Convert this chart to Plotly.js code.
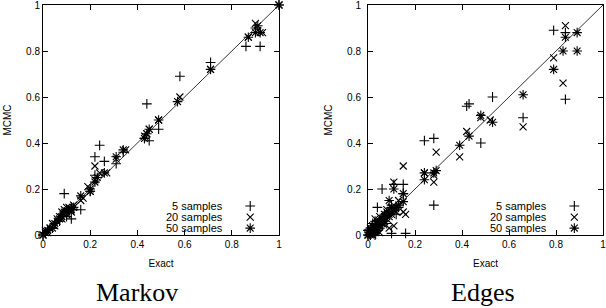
<!DOCTYPE html>
<html>
<head>
<meta charset="utf-8">
<script src="https://cdn.plot.ly/plotly-3.0.1.min.js"></script>
<style>html,body{margin:0;padding:0;background:#fff;}#chart{width:606px;height:308px;}</style>
</head>
<body>
<div id="chart"></div>
<script>
// ---------- data ----------
const seriesNames = ["5 samples", "20 samples", "50 samples"];
const panelTitles = ["Markov", "Edges"];
const tickVals = [0, 0.2, 0.4, 0.6, 0.8, 1];
const diagX = [0, 1];
const diagY = [0, 1];

// Markov panel
const markovX5  = [0.00,0.01,0.02,0.04,0.05,0.07,0.08,0.09,0.09,0.10,0.10,0.11,0.12,0.12,0.13,0.16,0.20,0.22,0.22,0.24,0.26,0.31,0.34,0.43,0.45,0.44,0.49,0.58,0.71,0.86,0.92,0.90,1.00];
const markovY5  = [0.00,0.01,0.02,0.03,0.05,0.06,0.09,0.18,0.10,0.11,0.08,0.10,0.07,0.12,0.11,0.11,0.19,0.34,0.26,0.39,0.32,0.31,0.36,0.42,0.41,0.57,0.46,0.69,0.75,0.82,0.82,0.90,1.00];
const markovX20 = [0.00,0.01,0.02,0.03,0.04,0.05,0.06,0.07,0.08,0.08,0.09,0.10,0.10,0.11,0.12,0.13,0.17,0.16,0.19,0.20,0.22,0.22,0.24,0.27,0.31,0.35,0.43,0.45,0.44,0.49,0.58,0.71,0.87,0.90,0.91,0.93,1.00];
const markovY20 = [0.00,0.02,0.01,0.03,0.05,0.04,0.07,0.08,0.10,0.07,0.11,0.09,0.12,0.12,0.10,0.13,0.16,0.15,0.21,0.19,0.30,0.24,0.27,0.27,0.33,0.37,0.43,0.46,0.44,0.50,0.60,0.72,0.86,0.92,0.89,0.88,1.00];
const markovX50 = [0.00,0.01,0.02,0.03,0.04,0.05,0.06,0.07,0.08,0.09,0.10,0.11,0.12,0.13,0.16,0.20,0.20,0.22,0.23,0.26,0.31,0.34,0.43,0.44,0.45,0.49,0.57,0.71,0.87,0.90,0.91,0.92,1.00];
const markovY50 = [0.00,0.01,0.02,0.03,0.03,0.05,0.06,0.07,0.08,0.10,0.10,0.11,0.11,0.12,0.17,0.20,0.19,0.23,0.25,0.27,0.34,0.37,0.42,0.44,0.46,0.50,0.58,0.72,0.86,0.88,0.91,0.88,1.00];

// Edges panel
const edgesX5  = [0.00,0.00,0.01,0.01,0.01,0.02,0.02,0.02,0.03,0.03,0.03,0.04,0.04,0.04,0.05,0.05,0.06,0.06,0.06,0.07,0.08,0.08,0.09,0.10,0.10,0.11,0.12,0.13,0.15,0.15,0.16,0.24,0.28,0.28,0.42,0.43,0.48,0.53,0.66,0.79,0.84,0.84];
const edgesY5  = [0.00,0.02,0.03,0.00,0.01,0.05,0.01,0.03,0.00,0.06,0.02,0.12,0.02,0.04,0.065,0.03,0.20,0.04,0.07,0.09,0.05,0.08,0.10,0.007,0.13,0.22,0.09,0.12,0.22,0.18,0.007,0.41,0.42,0.13,0.56,0.57,0.40,0.60,0.51,0.89,0.88,0.59];
const edgesX20 = [0.00,0.00,0.01,0.01,0.01,0.02,0.02,0.02,0.03,0.03,0.04,0.04,0.05,0.05,0.06,0.06,0.07,0.07,0.08,0.08,0.09,0.09,0.10,0.10,0.11,0.11,0.12,0.13,0.15,0.15,0.16,0.24,0.28,0.28,0.29,0.39,0.42,0.48,0.52,0.66,0.79,0.83,0.84];
const edgesY20 = [0.00,0.01,0.02,0.005,0.03,0.04,0.00,0.02,0.02,0.07,0.03,0.05,0.08,0.01,0.05,0.06,0.09,0.06,0.11,0.07,0.03,0.08,0.12,0.09,0.04,0.23,0.10,0.15,0.30,0.10,0.09,0.27,0.23,0.26,0.36,0.34,0.45,0.51,0.50,0.47,0.77,0.66,0.91];
const edgesX50 = [0.00,0.005,0.01,0.01,0.015,0.02,0.02,0.025,0.03,0.03,0.035,0.04,0.04,0.045,0.05,0.05,0.06,0.06,0.07,0.07,0.08,0.08,0.09,0.09,0.10,0.10,0.11,0.11,0.12,0.13,0.15,0.15,0.24,0.24,0.29,0.28,0.39,0.43,0.48,0.53,0.66,0.79,0.83,0.84,0.89,0.89];
const edgesY50 = [0.00,0.01,0.00,0.02,0.01,0.02,0.04,0.03,0.01,0.04,0.02,0.05,0.03,0.04,0.06,0.04,0.07,0.05,0.06,0.08,0.10,0.08,0.09,0.15,0.10,0.12,0.20,0.11,0.12,0.13,0.18,0.145,0.27,0.24,0.28,0.27,0.39,0.43,0.52,0.49,0.61,0.72,0.80,0.86,0.88,0.80];

// ---------- styling ----------
const symbols = ["cross-thin-open", "x-thin-open", "asterisk-open"];
const sizes = [7, 7, 8];
const legendRowsY = [0.126, 0.078, 0.030];
const legendTextX = 0.772;
const legendKeyX = 0.878;
const sansFont = "Liberation Sans, Arial, sans-serif";
const serifFont = "Liberation Serif, Times New Roman, serif";

const panels = [
  {xs: [markovX5, markovX20, markovX50], ys: [markovY5, markovY20, markovY50], xa: "x", ya: "y"},
  {xs: [edgesX5, edgesX20, edgesX50], ys: [edgesY5, edgesY20, edgesY50], xa: "x2", ya: "y2"}
];

const traces = [];
const annotations = [];
panels.forEach((p, pi) => {
  traces.push({x: diagX, y: diagY, xaxis: p.xa, yaxis: p.ya, mode: "lines",
    line: {color: "#000", width: 0.8}, showlegend: false, hoverinfo: "skip"});
  for (let s = 0; s < 3; s++) {
    traces.push({x: p.xs[s], y: p.ys[s], xaxis: p.xa, yaxis: p.ya, mode: "markers",
      name: seriesNames[s], cliponaxis: false, showlegend: false,
      marker: {symbol: symbols[s], size: sizes[s], color: "#000", line: {color: "#000", width: 1.1}}});
    // legend key
    traces.push({x: [legendKeyX], y: [legendRowsY[s]], xaxis: p.xa, yaxis: p.ya, mode: "markers",
      cliponaxis: false, showlegend: false, hoverinfo: "skip",
      marker: {symbol: symbols[s], size: sizes[s], color: "#000", line: {color: "#000", width: 1.1}}});
    annotations.push({xref: p.xa, yref: p.ya, x: legendTextX, y: legendRowsY[s], text: seriesNames[s],
      showarrow: false, xanchor: "right", yanchor: "middle", font: {family: sansFont, size: 11, color: "#000"}});
  }
});

const domains = [[43/606, 279/606], [368/606, 603/606]];
const titleCentersX = [137/606, 483/606];
titleCentersX.forEach((cx, i) => {
  annotations.push({xref: "paper", yref: "paper", x: cx, y: -0.252, text: panelTitles[i],
    showarrow: false, xanchor: "center", yanchor: "middle", font: {family: serifFont, size: 26, color: "#000"}});
});

function axis(dom, anchor, titleText, isX, extra) {
  return Object.assign({
    domain: dom, anchor: anchor, range: [0, 1], tickvals: tickVals,
    ticks: "inside", ticklen: 5, tickwidth: 1, tickcolor: "#000",
    showline: true, mirror: "ticks", linecolor: "#000", linewidth: 1,
    showgrid: false, zeroline: false, fixedrange: true, automargin: false,
    ticklabeloverflow: "allow",
    tickfont: {family: sansFont, size: 10, color: "#000"},
    title: {text: titleText, font: {family: sansFont, size: 10, color: "#000"}, standoff: isX ? 10 : 12}
  }, extra || {});
}

const layout = {
  width: 606, height: 308,
  margin: {l: 0, r: 0, t: 5, b: 73},
  paper_bgcolor: "#fff", plot_bgcolor: "#fff",
  showlegend: false,
  xaxis: axis(domains[0], "y", "Exact", true),
  yaxis: axis([0, 1], "x", "MCMC", false),
  xaxis2: axis(domains[1], "y2", "Exact", true),
  yaxis2: axis([0, 1], "x2", "MCMC", false, {ticklabelstandoff: 4}),
  annotations: annotations
};

Plotly.newPlot("chart", traces, layout, {staticPlot: true, displayModeBar: false});
</script>
</body>
</html>
